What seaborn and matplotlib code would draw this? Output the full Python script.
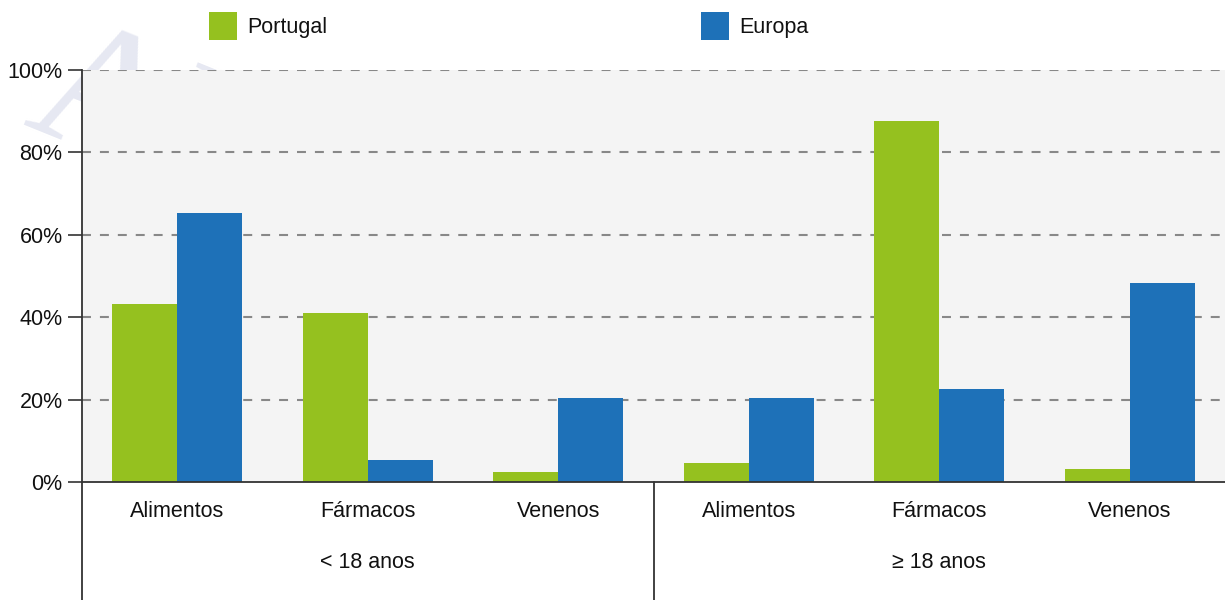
# intoxication agents by age group, portugal vs europe
import pandas as pd
import matplotlib.pyplot as plt
import seaborn as sns
from matplotlib.lines import Line2D
from matplotlib.patches import Patch

agents = ["Alimentos", "Fármacos", "Venenos", "Alimentos", "Fármacos", "Venenos"]
age_groups = ["< 18 anos", "< 18 anos", "< 18 anos", "≥ 18 anos", "≥ 18 anos", "≥ 18 anos"]
portugal = [43.2, 41.0, 2.4, 4.6, 87.6, 3.2]
europa = [65.3, 5.3, 20.4, 20.4, 22.6, 48.3]
series = ["Portugal", "Europa"]
colors = ["#95c11f", "#1e71b8"]
yticks = [0, 20, 40, 60, 80, 100]

FS = 15.5
INK = "#111111"


def main():
    sns.set_theme(style="white")
    plt.rcParams["font.family"] = ["Liberation Sans", "DejaVu Sans"]
    plt.rcParams["text.color"] = INK
    plt.rcParams["xtick.labelcolor"] = INK
    plt.rcParams["ytick.labelcolor"] = INK

    keys = [f"{a}|{g}" for a, g in zip(agents, age_groups)]
    df = pd.DataFrame({
        "key": keys * 2,
        "value": portugal + europa,
        "serie": ["Portugal"] * 6 + ["Europa"] * 6,
    })

    fig = plt.figure(figsize=(12.25, 6), dpi=100)

    # faint watermark, mostly hidden behind the plot area
    fig.text(0.005, 0.995, "ARQUIVO", fontsize=135, family="Liberation Serif",
             color="#e6e8f2", rotation=-22, ha="left", va="top", zorder=-1)

    ax = fig.add_axes([82 / 1225, 118 / 600, 1 - 82 / 1225, 412 / 600])
    ax.set_facecolor("#f4f4f4")

    sns.barplot(data=df, x="key", y="value", hue="serie", order=keys,
                hue_order=series, palette=colors, width=0.68, saturation=1,
                errorbar=None, legend=False, ax=ax, zorder=2)
    for p in ax.patches:
        p.set_linewidth(0)

    ax.set_ylim(0, 100)
    ax.set_xlim(-0.5, 5.5)
    ax.set_yticks(yticks)
    ax.set_yticklabels([f"{t}%" for t in yticks], fontsize=FS)
    ax.set_xticks(range(6))
    ax.set_xticklabels(agents, fontsize=FS)
    ax.tick_params(axis="x", length=0, pad=14)
    ax.tick_params(axis="y", length=10, width=1.2, color="#333333", pad=4, left=True)
    ax.set_xlabel("")
    ax.set_ylabel("")

    for y in yticks[1:]:
        ax.axhline(y, color="#888888", lw=1.5, ls=(0, (4.3, 4.3)), zorder=1)

    for s in ["top", "right"]:
        ax.spines[s].set_visible(False)
    for s in ["left", "bottom"]:
        ax.spines[s].set_color("#333333")
        ax.spines[s].set_linewidth(1.3)
        ax.spines[s].set_zorder(3)

    # group separators and labels under the axis
    tr = ax.get_xaxis_transform()
    below = -118 / 412
    for x in [-0.5, 2.5]:
        ax.add_line(Line2D([x, x], [0, below], transform=tr, color="#333333",
                           lw=1.3, clip_on=False))
    for x, g in [(1, age_groups[0]), (4, age_groups[3])]:
        ax.text(x, -80 / 412, g, transform=tr, ha="center", va="center", fontsize=FS)

    handles = [Patch(facecolor=c, edgecolor="none") for c in colors]
    fig.legend(handles, series, loc="center left", bbox_to_anchor=(200.5 / 1225, 1 - 26 / 600),
               ncol=2, frameon=False, fontsize=FS, handlelength=1.3, handleheight=1.67,
               handletextpad=0.45, columnspacing=17.4, borderaxespad=0)

    fig.savefig("out.png", dpi=100)
    plt.close(fig)


if __name__ == "__main__":
    main()
